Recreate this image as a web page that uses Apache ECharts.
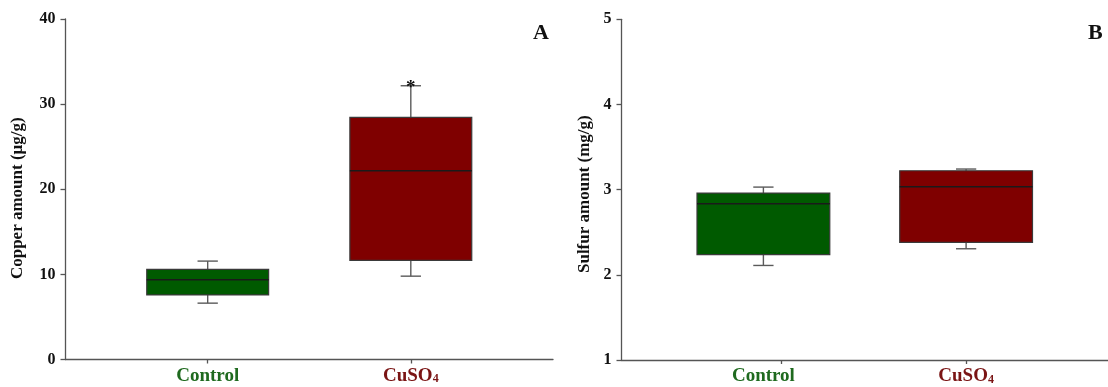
<!DOCTYPE html>
<html>
<head>
<meta charset="utf-8">
<script src="https://cdn.jsdelivr.net/npm/echarts@6/dist/echarts.min.js"></script>
<style>
  html, body { margin: 0; padding: 0; background: #fff; }
  #chart { width: 1108px; height: 387px; }
</style>
</head>
<body>
<div id="chart"></div>
<script>
// ---- data ----
const categories = ['Control', 'CuSO4'];
// [min, Q1, median, Q3, max]
const copperBoxes = [
  [6.62, 7.59, 9.36, 10.58, 11.56],
  [9.79, 11.64, 22.17, 28.45, 32.16]
];
const sulfurBoxes = [
  [2.11, 2.236, 2.835, 2.96, 3.03],
  [2.306, 2.381, 3.034, 3.222, 3.242]
];
const copperSig = ['', '*'];
const sulfurSig = ['', ''];
const copperTicks = [0, 10, 20, 30, 40];
const sulfurTicks = [1, 2, 3, 4, 5];
const panelLetters = ['A', 'B'];

// ---- styles ----
const FONT = "'Liberation Serif', 'Times New Roman', serif";
const boxColors = ['#005a00', '#7f0000'];
const labelColors = ['#1f6a1f', '#7a1414'];
const axisColor = '#555';

function boxData(boxes) {
  return boxes.map((b, i) => [i].concat(b));
}

function makeRender(boxW, capW, sig) {
  return function (params, api) {
    const x = api.value(0);
    const lo = api.value(1), q1 = api.value(2), med = api.value(3), q3 = api.value(4), hi = api.value(5);
    const pLo = api.coord([x, lo]);
    const pQ1 = api.coord([x, q1]);
    const pMed = api.coord([x, med]);
    const pQ3 = api.coord([x, q3]);
    const pHi = api.coord([x, hi]);
    const cx = pLo[0];
    const half = api.size([boxW, 0])[0] / 2;
    const capHalf = api.size([capW, 0])[0] / 2;
    const wStyle = { stroke: '#5a5a5a', lineWidth: 1.4 };
    const children = [
      { type: 'line', shape: { x1: cx, y1: pHi[1], x2: cx, y2: pQ3[1] }, style: wStyle },
      { type: 'line', shape: { x1: cx - capHalf, y1: pHi[1], x2: cx + capHalf, y2: pHi[1] }, style: wStyle },
      { type: 'line', shape: { x1: cx, y1: pLo[1], x2: cx, y2: pQ1[1] }, style: wStyle },
      { type: 'line', shape: { x1: cx - capHalf, y1: pLo[1], x2: cx + capHalf, y2: pLo[1] }, style: wStyle },
      { type: 'rect', shape: { x: cx - half, y: pQ3[1], width: half * 2, height: pQ1[1] - pQ3[1] },
        style: { fill: boxColors[params.dataIndex], stroke: '#3a3a3a', lineWidth: 1.2 } },
      { type: 'line', shape: { x1: cx - half, y1: pMed[1], x2: cx + half, y2: pMed[1] },
        style: { stroke: '#1a1a1a', lineWidth: 1.6 } }
    ];
    const s = sig[params.dataIndex];
    if (s) {
      children.push({
        type: 'text',
        style: { text: s, x: cx, y: pHi[1] + 2, align: 'center', verticalAlign: 'middle',
                 font: 'bold 19px ' + FONT, fill: '#111' }
      });
    }
    return { type: 'group', children: children };
  };
}

function xAxisFor(gridIndex, tickPos) {
  return {
    type: 'value', gridIndex: gridIndex, min: -0.7, max: 1.7,
    splitLine: { show: false },
    axisLine: { show: true, onZero: false, lineStyle: { color: axisColor, width: 1.3 } },
    axisTick: { show: true, length: 4, inside: false, customValues: tickPos,
                lineStyle: { color: axisColor, width: 1.3 } },
    axisLabel: {
      customValues: [0, 1], margin: 7,
      formatter: function (v) {
        const i = Math.round(v);
        if (i === 0) return '{g|' + categories[0] + '}';
        return '{r|CuSO}{rs|4}';
      },
      rich: {
        g: { fontFamily: FONT, fontWeight: 'bold', fontSize: 19, color: labelColors[0] },
        r: { fontFamily: FONT, fontWeight: 'bold', fontSize: 19, color: labelColors[1] },
        rs: { fontFamily: FONT, fontWeight: 'bold', fontSize: 12, color: labelColors[1], padding: [6, 0, 0, 0] }
      }
    }
  };
}

function yAxisFor(gridIndex, ticks, name, gap, pad) {
  return {
    type: 'value', gridIndex: gridIndex,
    min: ticks[0], max: ticks[ticks.length - 1], interval: ticks[1] - ticks[0],
    splitLine: { show: false },
    axisLine: { show: true, onZero: false, lineStyle: { color: axisColor, width: 1.3 } },
    axisTick: { show: true, length: 5, lineStyle: { color: axisColor, width: 1.3 } },
    axisLabel: { fontFamily: FONT, fontWeight: 'bold', fontSize: 16, color: '#111', margin: 10 },
    name: name, nameLocation: 'middle', nameGap: gap, nameRotate: 90,
    nameTextStyle: { fontFamily: FONT, fontWeight: 'bold', fontSize: 17, color: '#111', padding: pad }
  };
}

const chart = echarts.init(document.getElementById('chart'), null, { renderer: 'canvas' });
chart.setOption({
  animation: false,
  backgroundColor: '#fff',
  grid: [
    { left: 65.5, top: 19, width: 487.5, height: 340.5 },
    { left: 621.5, top: 19.3, width: 487, height: 340.7 }
  ],
  xAxis: [xAxisFor(0, [0, 1]), xAxisFor(1, [0.09, 1])],
  yAxis: [
    yAxisFor(0, copperTicks, 'Copper amount (\u03bcg/g)', 39, [0, 18, 0, 0]),
    yAxisFor(1, sulfurTicks, 'Sulfur amount (mg/g)', 28, [0, 9, 0, 0])
  ],
  graphic: [
    { type: 'text', left: 533, top: 22, style: { text: panelLetters[0], font: 'bold 22px ' + FONT, fill: '#111' } },
    { type: 'text', left: 1088, top: 22, style: { text: panelLetters[1], font: 'bold 22px ' + FONT, fill: '#111' } }
  ],
  series: [
    { type: 'custom', xAxisIndex: 0, yAxisIndex: 0, data: boxData(copperBoxes),
      encode: { x: 0, y: [1, 2, 3, 4, 5] }, renderItem: makeRender(0.6, 0.1, copperSig), clip: false },
    { type: 'custom', xAxisIndex: 1, yAxisIndex: 1, data: boxData(sulfurBoxes),
      encode: { x: 0, y: [1, 2, 3, 4, 5] }, renderItem: makeRender(0.655, 0.1, sulfurSig), clip: false }
  ]
});
</script>
</body>
</html>
